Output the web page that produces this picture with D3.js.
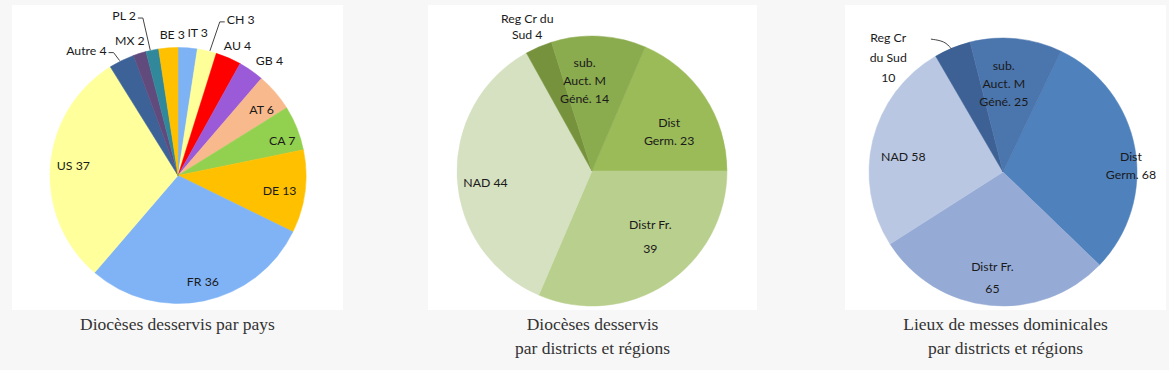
<!DOCTYPE html>
<html>
<head>
<meta charset="utf-8">
<script src="https://cdn.jsdelivr.net/npm/d3@7"></script>
<style>
  body { margin: 0; background: #f7f7f7; }
  svg { display: block; }
  .lbl { font-family: Lato, "Open Sans", sans-serif; font-size: 12.3px; fill: #1a1a1a; }
  .cap { font-family: "Liberation Serif", serif; font-size: 17.5px; fill: #333; }
</style>
</head>
<body>
<div id="chart"></div>
<script>
// chart 1 : dioceses by country
var countryNames  = ["IT", "CH", "AU", "GB", "AT", "CA", "DE", "FR", "US", "Autre", "MX", "PL", "BE"];
var countryValues = [3, 3, 4, 4, 6, 7, 13, 36, 37, 4, 2, 2, 3];

// chart 2 and 3 : districts and regions
var districtNames  = ["Dist Germ.", "Distr Fr.", "NAD", "Reg Cr du Sud", "sub. Auct. M Géné."];
var diocesesValues = [23, 39, 44, 4, 14];
var massValues     = [68, 65, 58, 10, 25];

var captions = [
    ["Diocèses desservis par pays"],
    ["Diocèses desservis", "par districts et régions"],
    ["Lieux de messes dominicales", "par districts et régions"]
];

var width = 1169, height = 370;

var svg = d3.select("#chart").append("svg")
    .attr("width", width)
    .attr("height", height);

// label layout: radius factor, nudges, text lines, leader line
var layout1 = {
    "IT":    {k: 1.10, dx: 9,   dy: -2,  lines: ["IT 3"]},
    "CH":    {k: 1.20, dx: 28,  dy: -6,  lines: ["CH 3"], leader: "left"},
    "AU":    {k: 1.10, dx: 4,   dy: 0,   lines: ["AU 4"]},
    "GB":    {k: 1.10, dx: 11,  dy: 1,   lines: ["GB 4"]},
    "AT":    {k: 0.83, dx: 3,   dy: 3,   lines: ["AT 6"]},
    "CA":    {k: 0.86, dx: 2,   dy: 6,   lines: ["CA 7"]},
    "DE":    {k: 0.80, dx: 0,   dy: 2,   lines: ["DE 13"]},
    "FR":    {k: 0.85, dx: 3,   dy: 0,   lines: ["FR 36"]},
    "US":    {k: 0.82, dx: 0,   dy: -2,  lines: ["US 37"]},
    "Autre": {k: 1.20, dx: -24, dy: 13,  lines: ["Autre 4"], leader: "right"},
    "MX":    {k: 1.10, dx: -6,  dy: 0,   lines: ["MX 2"]},
    "PL":    {k: 1.20, dx: -23, dy: -9,  lines: ["PL 2"], leader: "right"},
    "BE":    {k: 1.10, dx: 5,   dy: 0,   lines: ["BE 3"]}
};

var layout2 = {
    "Dist Germ.":         {k: 0.64, dx: 5,   dy: 8,  lines: ["Dist", "Germ. 23"]},
    "Distr Fr.":          {k: 0.65, dx: 10,  dy: -8, lines: ["Distr Fr.", "39"], lh: 24},
    "NAD":                {k: 0.79, dx: 0,   dy: 6,  lines: ["NAD 44"]},
    "Reg Cr du Sud":      {k: 1.16, dx: -3,  dy: 0,  lines: ["Reg Cr du", "Sud 4"], lh: 16},
    "sub. Auct. M Géné.": {k: 0.67, dx: -12, dy: 0,  lines: ["sub.", "Auct. M", "Géné. 14"]}
};

var layout3 = {
    "Dist Germ.":         {k: 0.97, dx: 0,   dy: 17, lines: ["Dist", "Germ. 68"]},
    "Distr Fr.":          {k: 0.795, dx: 0,  dy: 0,  lines: ["Distr Fr.", "65"], lh: 22},
    "NAD":                {k: 0.75, dx: -2,  dy: 8,  lines: ["NAD 58"]},
    "Reg Cr du Sud":      {k: 1.20, dx: -54, dy: 35, lines: ["Reg Cr", "du Sud", "10"], lh: 20, leader: "curve"},
    "sub. Auct. M Géné.": {k: 0.66, dx: -8,  dy: 0,  lines: ["sub.", "Auct. M", "Géné. 25"]}
};

var colors1 = ["#7db2f5", "#ffff99", "#ff0000", "#9b5bd8", "#f8b98c", "#92d050", "#ffc000",
               "#7fb3f6", "#ffff9c", "#3c6297", "#614a7c", "#31889b", "#ffc000"];
var colors2 = ["#9bbb59", "#b9cf8d", "#d5e1c0", "#76923c", "#8aab4e"];
var colors3 = ["#4f81bd", "#95abd5", "#b9c7e2", "#3d6194", "#4b75ad"];

var panels = [
    {x0: 12,  x1: 343,  cx: 178,  cy: 175.5, r: 128, names: countryNames,  values: countryValues,  colors: colors1, layout: layout1, start: 0},
    {x0: 428, x1: 757,  cx: 592,  cy: 171,   r: 135, names: districtNames, values: diocesesValues, colors: colors2, layout: layout2, start: 23.2},
    {x0: 845, x1: 1166, cx: 1003, cy: 172,   r: 134, names: districtNames, values: massValues,     colors: colors3, layout: layout3, start: 25.6}
];

function drawPanel(p, idx) {
    svg.append("rect")
        .attr("x", p.x0).attr("y", 5)
        .attr("width", p.x1 - p.x0).attr("height", 305)
        .attr("fill", "#fff");

    var rows = p.names.map(function(n, i) { return {name: n, value: p.values[i], color: p.colors[i]}; });

    var start = p.start * Math.PI / 180;
    var pie = d3.pie()
        .value(function(d) { return d.value; })
        .sort(null)
        .startAngle(start)
        .endAngle(start + 2 * Math.PI);

    var arc = d3.arc().innerRadius(0).outerRadius(p.r);

    var g = svg.append("g").attr("transform", "translate(" + p.cx + "," + p.cy + ")");
    var arcs = pie(rows);

    g.selectAll("path.slice")
        .data(arcs)
        .enter().append("path")
        .attr("class", "slice")
        .attr("d", arc)
        .attr("fill", function(d) { return d.data.color; })
        .attr("stroke", function(d) { return d.data.color; })
        .attr("stroke-width", 0.5);

    arcs.forEach(function(d) {
        var lay = p.layout[d.data.name];
        var mid = (d.startAngle + d.endAngle) / 2;
        var R = lay.k * p.r;
        var x = R * Math.sin(mid) + lay.dx;
        var y = -R * Math.cos(mid) + lay.dy;
        var lh = lay.lh || 18;
        var n = lay.lines.length;

        var t = g.append("text")
            .attr("class", "lbl")
            .attr("text-anchor", "middle");
        lay.lines.forEach(function(line, j) {
            t.append("tspan")
                .attr("x", x)
                .attr("y", y + (j - (n - 1) / 2) * lh)
                .attr("dy", "0.35em")
                .text(line);
        });

        if (lay.leader) {
            var ex = p.r * Math.sin(mid), ey = -p.r * Math.cos(mid);
            var w = t.node().getBBox().width;
            var topY = y - (n - 1) / 2 * lh;
            var pts;
            if (lay.leader == "left") {
                var lx = x - w / 2 - 2;
                pts = [[lx, topY + 2], [lx - 5, topY + 2], [ex + 3, ey]];
            } else if (lay.leader == "right") {
                var rx = x + w / 2 + 2;
                pts = [[rx, topY + 2], [rx + 5, topY + 2], [ex - 2, ey]];
            } else {
                var cxs = x + w / 2 + 24;
                pts = [[cxs, topY + 1], [cxs + 14, topY + 3], [ex - 1, ey + 1]];
            }
            g.append("path")
                .attr("d", d3.line().curve(lay.leader == "curve" ? d3.curveBasis : d3.curveLinear)(pts))
                .attr("fill", "none")
                .attr("stroke", "#444")
                .attr("stroke-width", 1);
        }
    });

    var cap = svg.append("text")
        .attr("class", "cap")
        .attr("text-anchor", "middle");
    captions[idx].forEach(function(line, j) {
        cap.append("tspan")
            .attr("x", (p.x0 + p.x1) / 2)
            .attr("y", 330 + j * 24)
            .text(line);
    });
}

panels.forEach(drawPanel);
</script>
</body>
</html>
